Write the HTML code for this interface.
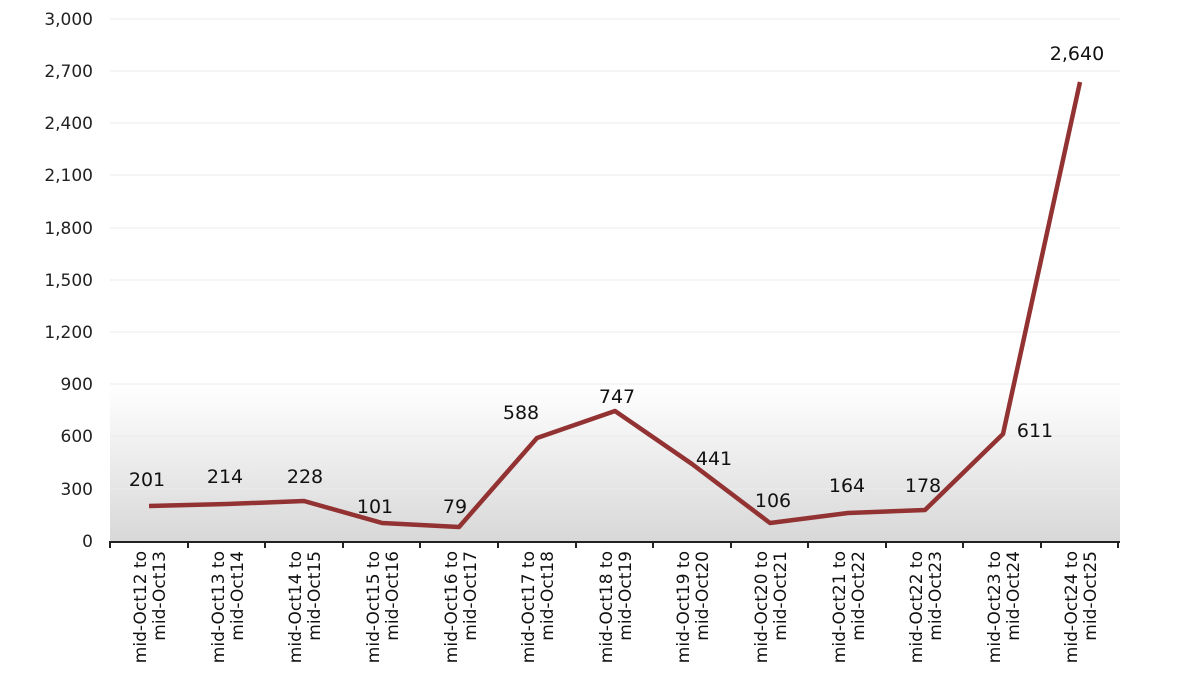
<!DOCTYPE html>
<html><head><meta charset="utf-8"><style>body{margin:0;background:#fff}svg{display:block}</style></head><body>
<svg width="1200" height="675" xmlns="http://www.w3.org/2000/svg" font-family="DejaVu Sans, Liberation Sans, sans-serif">
<defs><linearGradient id="g" x1="0" y1="0" x2="0" y2="1"><stop offset="0" stop-color="#fff"/><stop offset="1" stop-color="#d8d8d8"/></linearGradient></defs>
<rect x="110" y="384" width="1010" height="157" fill="url(#g)"/>
<g stroke="#ebebeb" stroke-width="1">
<line x1="110" x2="1120" y1="19" y2="19"/><line x1="110" x2="1120" y1="71" y2="71"/><line x1="110" x2="1120" y1="123" y2="123"/><line x1="110" x2="1120" y1="175" y2="175"/><line x1="110" x2="1120" y1="228" y2="228"/><line x1="110" x2="1120" y1="280" y2="280"/><line x1="110" x2="1120" y1="332" y2="332"/><line x1="110" x2="1120" y1="384" y2="384"/><line x1="110" x2="1120" y1="436" y2="436"/><line x1="110" x2="1120" y1="489" y2="489"/>
</g>
<g font-size="17" fill="#222" text-anchor="end">
<text x="93" y="25">3,000</text><text x="93" y="77">2,700</text><text x="93" y="129">2,400</text><text x="93" y="181">2,100</text><text x="93" y="234">1,800</text><text x="93" y="286">1,500</text><text x="93" y="338">1,200</text><text x="93" y="390">900</text><text x="93" y="442">600</text><text x="93" y="495">300</text><text x="93" y="547">0</text>
</g>
<line x1="110" x2="1120" y1="542" y2="542" stroke="#222" stroke-width="2"/>
<g stroke="#222" stroke-width="2">
<line x1="110" x2="110" y1="541" y2="548"/><line x1="188" x2="188" y1="541" y2="548"/><line x1="265" x2="265" y1="541" y2="548"/><line x1="343" x2="343" y1="541" y2="548"/><line x1="420" x2="420" y1="541" y2="548"/><line x1="498" x2="498" y1="541" y2="548"/><line x1="576" x2="576" y1="541" y2="548"/><line x1="653" x2="653" y1="541" y2="548"/><line x1="731" x2="731" y1="541" y2="548"/><line x1="808" x2="808" y1="541" y2="548"/><line x1="886" x2="886" y1="541" y2="548"/><line x1="963" x2="963" y1="541" y2="548"/><line x1="1041" x2="1041" y1="541" y2="548"/><line x1="1118" x2="1118" y1="541" y2="548"/>
</g>
<polyline fill="none" stroke="#923232" stroke-width="4.5" stroke-linejoin="round" points="149,506 227,504 304,501 382,523 459,527 537,438 615,411 692,464 770,523 848,513 925,510 1003,434 1080,82"/>
<g font-size="19" fill="#111" text-anchor="middle">
<text x="147" y="486">201</text><text x="225" y="483">214</text><text x="305" y="483">228</text><text x="375" y="513">101</text><text x="455" y="513">79</text><text x="521" y="419">588</text><text x="617" y="403">747</text><text x="714" y="465">441</text><text x="773" y="507">106</text><text x="847" y="492">164</text><text x="923" y="492">178</text><text x="1035" y="437">611</text><text x="1077" y="60">2,640</text>
</g>
<g font-size="17" fill="#111" text-anchor="end">
<g transform="translate(149,551) rotate(-90)"><text x="0" y="-3">mid-Oct12 to</text><text x="0" y="16">mid-Oct13</text></g>
<g transform="translate(227,551) rotate(-90)"><text x="0" y="-3">mid-Oct13 to</text><text x="0" y="16">mid-Oct14</text></g>
<g transform="translate(304,551) rotate(-90)"><text x="0" y="-3">mid-Oct14 to</text><text x="0" y="16">mid-Oct15</text></g>
<g transform="translate(382,551) rotate(-90)"><text x="0" y="-3">mid-Oct15 to</text><text x="0" y="16">mid-Oct16</text></g>
<g transform="translate(460,551) rotate(-90)"><text x="0" y="-3">mid-Oct16 to</text><text x="0" y="16">mid-Oct17</text></g>
<g transform="translate(537,551) rotate(-90)"><text x="0" y="-3">mid-Oct17 to</text><text x="0" y="16">mid-Oct18</text></g>
<g transform="translate(615,551) rotate(-90)"><text x="0" y="-3">mid-Oct18 to</text><text x="0" y="16">mid-Oct19</text></g>
<g transform="translate(692,551) rotate(-90)"><text x="0" y="-3">mid-Oct19 to</text><text x="0" y="16">mid-Oct20</text></g>
<g transform="translate(770,551) rotate(-90)"><text x="0" y="-3">mid-Oct20 to</text><text x="0" y="16">mid-Oct21</text></g>
<g transform="translate(848,551) rotate(-90)"><text x="0" y="-3">mid-Oct21 to</text><text x="0" y="16">mid-Oct22</text></g>
<g transform="translate(925,551) rotate(-90)"><text x="0" y="-3">mid-Oct22 to</text><text x="0" y="16">mid-Oct23</text></g>
<g transform="translate(1003,551) rotate(-90)"><text x="0" y="-3">mid-Oct23 to</text><text x="0" y="16">mid-Oct24</text></g>
<g transform="translate(1080,551) rotate(-90)"><text x="0" y="-3">mid-Oct24 to</text><text x="0" y="16">mid-Oct25</text></g>
</g>
</svg>
</body></html>
